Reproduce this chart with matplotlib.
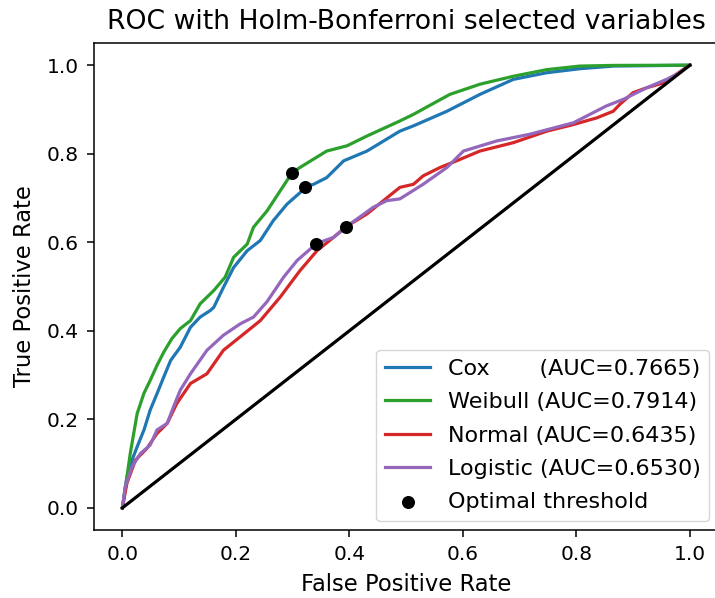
import numpy as np
import matplotlib
matplotlib.use("Agg")
import matplotlib.pyplot as plt

# ROC curves (false positive rate, true positive rate)
cox_fpr = [0, 0.008, 0.017, 0.026, 0.038, 0.049, 0.061, 0.073, 0.085, 0.102, 0.12, 0.137, 0.155,
           0.161, 0.178, 0.196, 0.22, 0.243, 0.266, 0.29, 0.313, 0.322, 0.337, 0.36, 0.39, 0.431,
           0.489, 0.513, 0.572, 0.63, 0.689, 0.748, 0.806, 0.865, 1.0]
cox_tpr = [0, 0.07, 0.108, 0.138, 0.176, 0.221, 0.258, 0.296, 0.333, 0.363, 0.408, 0.431, 0.446,
           0.453, 0.498, 0.543, 0.581, 0.604, 0.649, 0.686, 0.712, 0.725, 0.731, 0.746, 0.784, 0.806,
           0.851, 0.863, 0.896, 0.934, 0.968, 0.983, 0.992, 0.998, 1.0]

weib_fpr = [0, 0.008, 0.014, 0.026, 0.038, 0.049, 0.061, 0.073, 0.087, 0.102, 0.12, 0.137, 0.161,
            0.181, 0.196, 0.22, 0.231, 0.255, 0.278, 0.299, 0.313, 0.36, 0.396, 0.431, 0.489,
            0.513, 0.577, 0.63, 0.689, 0.748, 0.806, 0.865, 1.0]
weib_tpr = [0, 0.07, 0.124, 0.213, 0.259, 0.288, 0.322, 0.352, 0.382, 0.405, 0.423, 0.461, 0.491,
            0.521, 0.566, 0.596, 0.634, 0.671, 0.716, 0.757, 0.769, 0.806, 0.818, 0.84, 0.874,
            0.889, 0.934, 0.957, 0.975, 0.99, 0.998, 0.9995, 1.0]

norm_fpr = [0, 0.008, 0.023, 0.043, 0.061, 0.079, 0.096, 0.12, 0.149, 0.178, 0.214, 0.243, 0.278,
            0.313, 0.343, 0.372, 0.394, 0.431, 0.46, 0.489, 0.513, 0.53, 0.56, 0.589, 0.63,
            0.689, 0.748, 0.795, 0.836, 0.865, 0.877, 0.9, 0.924, 0.953, 0.971, 0.988, 1.0]
norm_tpr = [0, 0.056, 0.108, 0.134, 0.168, 0.191, 0.236, 0.281, 0.303, 0.356, 0.393, 0.423, 0.476,
            0.536, 0.581, 0.611, 0.635, 0.664, 0.694, 0.724, 0.731, 0.75, 0.769, 0.784, 0.806,
            0.825, 0.851, 0.866, 0.881, 0.896, 0.912, 0.938, 0.949, 0.96, 0.975, 0.99, 1.0]

logi_fpr = [0, 0.005, 0.017, 0.032, 0.049, 0.061, 0.079, 0.09, 0.102, 0.12, 0.149, 0.178, 0.208,
            0.231, 0.255, 0.284, 0.308, 0.342, 0.372, 0.401, 0.442, 0.466, 0.489, 0.53, 0.572,
            0.601, 0.66, 0.718, 0.795, 0.853, 0.883, 0.924, 0.959, 0.982, 1.0]
logi_tpr = [0, 0.048, 0.093, 0.123, 0.142, 0.176, 0.191, 0.228, 0.266, 0.303, 0.356, 0.39, 0.416,
            0.431, 0.466, 0.521, 0.559, 0.597, 0.611, 0.641, 0.679, 0.694, 0.698, 0.731, 0.769,
            0.806, 0.829, 0.844, 0.87, 0.908, 0.923, 0.949, 0.968, 0.983, 1.0]

names = ["Cox      ", "Weibull", "Normal", "Logistic"]
aucs = [0.7665, 0.7914, 0.6435, 0.6530]
colors = ["#1f77b4", "#2ca02c", "#d62728", "#9467bd"]

# optimal thresholds (fpr, tpr), one per model
opt_fpr = [0.322, 0.299, 0.394, 0.342]
opt_tpr = [0.725, 0.757, 0.635, 0.597]

plt.rcParams["font.size"] = 14.5
plt.rcParams["axes.linewidth"] = 1.1
plt.rcParams["xtick.major.size"] = 5
plt.rcParams["ytick.major.size"] = 5
plt.rcParams["xtick.major.width"] = 1.1
plt.rcParams["ytick.major.width"] = 1.1
plt.rcParams["xtick.major.pad"] = 6
plt.rcParams["ytick.major.pad"] = 6

fig = plt.figure(figsize=(7.15, 5.98), dpi=100)
ax = fig.add_axes([0.1315, 0.1137, 0.873, 0.8143])

curves = [(cox_fpr, cox_tpr), (weib_fpr, weib_tpr), (norm_fpr, norm_tpr), (logi_fpr, logi_tpr)]
for (fpr, tpr), name, auc, c in zip(curves, names, aucs, colors):
    ax.plot(fpr, tpr, color=c, lw=2.3, label=f"{name} (AUC={auc:.4f})")

ax.scatter(opt_fpr, opt_tpr, color="black", s=70, zorder=5, label="Optimal threshold")
ax.plot([0, 1], [0, 1], color="black", lw=2.3)

ax.set_xlabel("False Positive Rate", fontsize=16.3, labelpad=6)
ax.set_ylabel("True Positive Rate", fontsize=16.3, labelpad=8)
ax.set_title("ROC with Holm-Bonferroni selected variables", fontsize=19.2, pad=10)
ax.legend(loc="lower right", fontsize=16, borderaxespad=0.4, labelspacing=0.6)

fig.savefig("out.png", dpi=100)
